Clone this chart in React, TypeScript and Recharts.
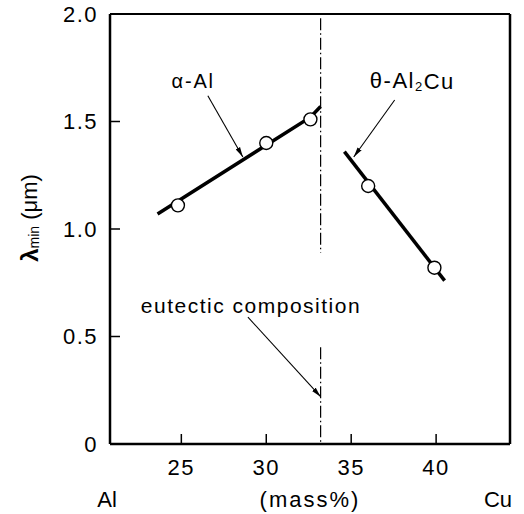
import React from "react";
import { ComposedChart, XAxis, YAxis, Scatter, ReferenceLine, ReferenceDot } from "recharts";

const FONT = '"Liberation Sans", Arial, Helvetica, sans-serif';

// axis setup (mass% Cu vs lambda_min)
const xDomain = [20.8, 44.35];
const yDomain = [0, 2.0];
const xTicks = [25, 30, 35, 40];
const yTicks = [0, 0.5, 1.0, 1.5, 2.0];

// measured points
const alphaPoints = [
  { x: 24.8, y: 1.11 },
  { x: 30.0, y: 1.4 },
  { x: 32.6, y: 1.51 },
];
const thetaPoints = [
  { x: 36.0, y: 1.2 },
  { x: 39.9, y: 0.82 },
];

// fitted lines
const alphaLine = [
  { x: 23.6, y: 1.07 },
  { x: 32.6, y: 1.52 },
  { x: 33.2, y: 1.57 },
];
const thetaLine = [
  { x: 34.6, y: 1.36 },
  { x: 40.5, y: 0.76 },
];

const eutecticX = 33.2;
const eutecticUpper = [1.98, 0.89];
const eutecticLower = [0.45, 0];

// annotation arrows (label -> target)
const alphaArrow = [
  { x: 26.56, y: 1.62 },
  { x: 28.62, y: 1.335 },
];
const thetaArrow = [
  { x: 37.56, y: 1.6 },
  { x: 35.15, y: 1.335 },
];
const eutecticArrow = [
  { x: 28.92, y: 0.59 },
  { x: 33.2, y: 0.22 },
];

const alphaLabel = { x: 25.7, y: 1.69, text: "α-Al" };
const thetaLabel = { x: 38.6, y: 1.69 };
const eutecticLabel = { x: 29.1, y: 0.645, text: "eutectic composition" };

const noShape = () => <g />;

const OpenCircle = (props: any) => (
  <circle cx={props.cx} cy={props.cy} r={6.5} fill="#fff" stroke="#000" strokeWidth={1.4} />
);

const XLabels = (props: any) => {
  const vb = props.viewBox;
  const y = vb.y + 55;
  const style = { fontFamily: FONT, fontSize: 22, fill: "#000" };
  return (
    <g>
      <text x={vb.x - 3} y={y} textAnchor="middle" dominantBaseline="central" {...style}>Al</text>
      <text x={vb.x + vb.width / 2} y={y} textAnchor="middle" dominantBaseline="central" letterSpacing={2} {...style}>(mass%)</text>
      <text x={vb.x + vb.width - 12} y={y} textAnchor="middle" dominantBaseline="central" {...style}>Cu</text>
    </g>
  );
};

const YLabel = (props: any) => {
  const vb = props.viewBox;
  const cx = vb.x + 19;
  const cy = vb.y + vb.height / 2 - 11;
  return (
    <text
      x={cx}
      y={cy}
      transform={`rotate(-90, ${cx}, ${cy})`}
      textAnchor="middle"
      dominantBaseline="central"
      fontFamily={FONT}
      fontSize={22}
      fill="#000"
    >
      <tspan fontSize={24} fontWeight="bold">λ</tspan>
      <tspan fontSize={14} dy={5}>min</tspan>
      <tspan dy={-5}> (μm)</tspan>
    </text>
  );
};

const textShape = (content: React.ReactNode, size: number, spacing = 0) => (p: any) => (
  <text
    x={p.cx}
    y={p.cy}
    textAnchor="middle"
    dominantBaseline="central"
    fontFamily={FONT}
    fontSize={size}
    letterSpacing={spacing}
    fill="#000"
  >
    {content}
  </text>
);

const arrowLine = { stroke: "#000", strokeWidth: 1.1, markerEnd: "url(#arrowHead)" };

export default function App() {
  return (
    <div style={{ position: "absolute", left: 0, top: 0, width: 524, height: 514, background: "#fff" }}>
      <svg width={0} height={0} style={{ position: "absolute" }}>
        <defs>
          <marker
            id="arrowHead"
            markerUnits="userSpaceOnUse"
            markerWidth={10}
            markerHeight={6}
            refX={10}
            refY={3}
            orient="auto"
          >
            <path d="M0,0.5 L10,3 L0,5.5 z" fill="#000" />
          </marker>
        </defs>
      </svg>
      <ComposedChart width={524} height={514} margin={{ top: 14, right: 14, bottom: 30, left: 10 }}>
        <XAxis
          type="number"
          dataKey="x"
          domain={xDomain}
          ticks={xTicks}
          allowDataOverflow
          height={40}
          tickSize={-10}
          tickMargin={25}
          axisLine={{ stroke: "#000", strokeWidth: 2.5 }}
          tickLine={{ stroke: "#000", strokeWidth: 1.5 }}
          tick={{ fill: "#000", fontSize: 22, fontFamily: FONT, letterSpacing: 1.5 }}
          label={{ content: XLabels }}
        />
        <YAxis
          type="number"
          dataKey="y"
          domain={yDomain}
          ticks={yTicks}
          allowDataOverflow
          width={100}
          tickSize={-10}
          tickMargin={22}
          tickFormatter={(v: number) => (v === 0 ? "0" : v.toFixed(1))}
          axisLine={{ stroke: "#000", strokeWidth: 2.5 }}
          tickLine={{ stroke: "#000", strokeWidth: 1.5 }}
          tick={{ fill: "#000", fontSize: 22, fontFamily: FONT, letterSpacing: 1.5 }}
          label={{ content: YLabel }}
        />
        {/* frame top / right */}
        <ReferenceLine y={yDomain[1]} stroke="#000" strokeWidth={2} />
        <ReferenceLine x={xDomain[1]} stroke="#000" strokeWidth={2.5} />

        {/* eutectic composition, dash-dot */}
        <ReferenceLine
          segment={[{ x: eutecticX, y: eutecticUpper[0] }, { x: eutecticX, y: eutecticUpper[1] }]}
          stroke="#000"
          strokeWidth={1.2}
          strokeDasharray="12 3 1.5 3"
        />
        <ReferenceLine
          segment={[{ x: eutecticX, y: eutecticLower[0] }, { x: eutecticX, y: eutecticLower[1] }]}
          stroke="#000"
          strokeWidth={1.2}
          strokeDasharray="12 3 1.5 3"
        />

        <Scatter data={alphaLine} line={{ stroke: "#000", strokeWidth: 3.5 }} shape={noShape} isAnimationActive={false} />
        <Scatter data={thetaLine} line={{ stroke: "#000", strokeWidth: 3.5 }} shape={noShape} isAnimationActive={false} />

        <Scatter data={alphaArrow} line={arrowLine} shape={noShape} isAnimationActive={false} />
        <Scatter data={thetaArrow} line={arrowLine} shape={noShape} isAnimationActive={false} />
        <Scatter data={eutecticArrow} line={arrowLine} shape={noShape} isAnimationActive={false} />

        <Scatter data={alphaPoints} shape={OpenCircle} isAnimationActive={false} />
        <Scatter data={thetaPoints} shape={OpenCircle} isAnimationActive={false} />

        <ReferenceDot x={alphaLabel.x} y={alphaLabel.y} r={0} shape={textShape(alphaLabel.text, 20, 1.8)} />
        <ReferenceDot
          x={thetaLabel.x}
          y={thetaLabel.y}
          r={0}
          shape={textShape(
            <>
              θ-Al<tspan fontSize={13} dy={5}>2</tspan><tspan dy={-5}>Cu</tspan>
            </>,
            22,
            1.5
          )}
        />
        <ReferenceDot x={eutecticLabel.x} y={eutecticLabel.y} r={0} shape={textShape(eutecticLabel.text, 21, 1.5)} />
      </ComposedChart>
    </div>
  );
}
